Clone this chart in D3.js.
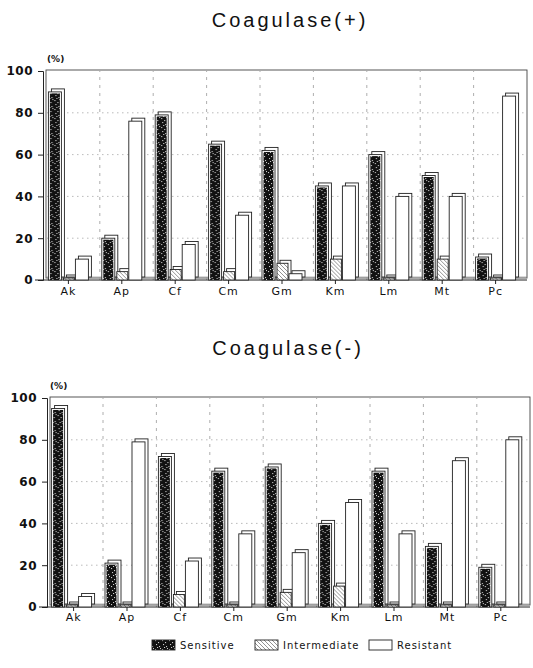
<!DOCTYPE html>
<html><head><meta charset="utf-8">
<script src="https://cdn.jsdelivr.net/npm/d3@7/dist/d3.min.js"></script>
<style>
body{margin:0;background:#fff;}
svg{display:block;}
text{font-family:"DejaVu Sans","Liberation Sans",sans-serif;fill:#111;}
</style></head>
<body>
<script>
// ---- data ----
const categories = ["Ak","Ap","Cf","Cm","Gm","Km","Lm","Mt","Pc"];
const seriesNames = ["Sensitive","Intermediate","Resistant"];
const posSensitive    = [90,20,79,65,62,45,60,50,11];
const posIntermediate = [0,4,5,4,8,10,0,10,0];
const posResistant    = [10,76,17,31,3,45,40,40,88];
const negSensitive    = [95,21,72,65,67,40,65,29,19];
const negIntermediate = [0,0,6,0,7,10,0,0,0];
const negResistant    = [5,79,22,35,26,50,35,70,80];
const yTicks = [0,20,40,60,80,100];
const titles = ["Coagulase(+)","Coagulase(-)"];

const W=533,H=668;
const svg=d3.select("body").append("svg").attr("width",W).attr("height",H);
const defs=svg.append("defs");

// speckle pattern
const sp=defs.append("pattern").attr("id","speck").attr("patternUnits","userSpaceOnUse")
  .attr("width",7).attr("height",9);
sp.append("rect").attr("width",7).attr("height",9).attr("fill","#111");
[[1,1],[4,3],[2,5],[5,7],[6,0],[3,8]].forEach(p=>
  sp.append("rect").attr("x",p[0]).attr("y",p[1]).attr("width",1.1).attr("height",1.1).attr("fill","#ccc"));
// hatch
const hp=defs.append("pattern").attr("id","hatch").attr("patternUnits","userSpaceOnUse")
  .attr("width",4).attr("height",4);
hp.append("rect").attr("width",4).attr("height",4).attr("fill","#fff");
hp.append("path").attr("d","M-1,-1L5,5M-1,3L1,5M3,-1L5,1").attr("stroke","#777").attr("stroke-width",0.8);

const fills=["url(#speck)","url(#hatch)","#fff"];

function drawChart(cfg){
  const g=svg.append("g");
  const y=d3.scaleLinear().domain([0,100]).range([cfg.y0,cfg.y100]);
  const x0=d3.scaleBand().domain(categories).range([cfg.bandStart,cfg.bandStart+cfg.step*categories.length]).padding(0);
  const x1=d3.scaleOrdinal().domain(seriesNames).range([2,17,29]);
  const wid=d3.scaleOrdinal().domain(seriesNames).range([13,11,13]);

  // title
  g.append("text").attr("x",cfg.titleX).attr("y",cfg.titleY).attr("text-anchor","middle")
    .style("font-family","'Liberation Sans',Arial,sans-serif").style("font-size","20px")
    .style("letter-spacing","3px").attr("fill","#222").text(cfg.title);
  // (%)
  g.append("text").attr("x",cfg.pctX).attr("y",cfg.pctY).style("font-size","9px").style("font-weight","bold").text("(%)");

  // frame
  g.append("rect").attr("x",cfg.frameL).attr("y",y(100)-1).attr("width",cfg.frameR-cfg.frameL)
    .attr("height",y(0)-y(100)-1).attr("fill","none").attr("stroke","#444").attr("stroke-width",0.9);

  // grid horizontal
  g.selectAll(".hg").data(yTicks.filter(d=>d>0&&d<100)).enter().append("line")
    .attr("x1",cfg.frameL+1).attr("x2",cfg.frameR-1).attr("y1",d=>y(d)).attr("y2",d=>y(d))
    .attr("stroke","#aaa").attr("stroke-width",0.8).attr("stroke-dasharray","1.5,3.5");
  // grid vertical at group boundaries
  g.selectAll(".vg").data(categories.slice(1)).enter().append("line")
    .attr("x1",d=>x0(d)).attr("x2",d=>x0(d)).attr("y1",y(0)).attr("y2",y(100))
    .attr("stroke","#999").attr("stroke-width",0.8).attr("stroke-dasharray","3,5");

  // y axis
  const ya=g.append("g").attr("transform",`translate(${cfg.axisX},0)`)
    .call(d3.axisLeft(y).tickValues(yTicks).tickSize(5).tickPadding(cfg.tickPad));
  ya.select(".domain").attr("stroke","#222");
  ya.selectAll("line").attr("stroke","#222");
  ya.selectAll("text").style("font-size","12px").style("font-weight","bold")
    .style("font-family","'DejaVu Sans',sans-serif").style("letter-spacing","0.5px").attr("fill","#111");
  // floor lines
  g.append("line").attr("x1",cfg.axisX-8).attr("x2",cfg.frameR).attr("y1",y(0)).attr("y2",y(0))
    .attr("stroke","#222").attr("stroke-width",1);
  g.append("line").attr("x1",cfg.frameL).attr("x2",cfg.frameR).attr("y1",y(0)-3).attr("y2",y(0)-3)
    .attr("stroke","#888").attr("stroke-width",0.6);

  // bars
  categories.forEach((c,i)=>{
    const gg=g.append("g").attr("transform",`translate(${x0(c)},0)`);
    seriesNames.forEach((s,k)=>{
      const v=cfg.series[k][i];
      const top=Math.min(y(v),y(0)-2);
      const h=y(0)-top;
      const bx=x1(s), w=wid(s);
      gg.append("rect").attr("x",bx+3).attr("y",top-3).attr("width",w).attr("height",h)
        .attr("fill","#fff").attr("stroke","#222").attr("stroke-width",0.9);
      if(k===0){
        gg.append("rect").attr("x",bx).attr("y",top).attr("width",w).attr("height",h)
          .attr("fill","#fff").attr("stroke","#222").attr("stroke-width",0.9);
        gg.append("rect").attr("x",bx+1.5).attr("y",top+1.5).attr("width",w-3).attr("height",Math.max(0,h-1.5))
          .attr("fill",fills[0]);
      } else {
        gg.append("rect").attr("x",bx).attr("y",top).attr("width",w).attr("height",h)
          .attr("fill",fills[k]).attr("stroke","#222").attr("stroke-width",0.9);
      }
    });
  });

  // x ticks and labels
  g.selectAll(".xt").data(categories).enter().append("line")
    .attr("x1",d=>x0(d)+cfg.tickOff).attr("x2",d=>x0(d)+cfg.tickOff)
    .attr("y1",y(0)).attr("y2",y(0)+4).attr("stroke","#222");
  g.selectAll(".xl").data(categories).enter().append("text")
    .attr("x",d=>x0(d)+cfg.tickOff).attr("y",cfg.labelY).attr("text-anchor","middle")
    .style("font-size","11px").style("letter-spacing","1px").text(d=>d);
}

drawChart({title:titles[0],titleX:290,titleY:27,pctX:47,pctY:62,y0:280,y100:71,axisX:43,frameL:46,frameR:527,
  bandStart:46.4,step:53.4,tickOff:22,labelY:295,tickPad:5,
  series:[posSensitive,posIntermediate,posResistant]});
drawChart({title:titles[1],titleX:288,titleY:355,pctX:50,pctY:389,y0:607,y100:398,axisX:47,frameL:50,frameR:530,
  bandStart:49.6,step:53.4,tickOff:24,labelY:621,tickPad:5,
  series:[negSensitive,negIntermediate,negResistant]});

// legend
const legItems=[{x:152,tx:180},{x:255,tx:283},{x:369,tx:397}];
const lg=svg.append("g");
seriesNames.forEach((s,k)=>{
  lg.append("rect").attr("x",legItems[k].x).attr("y",640).attr("width",23).attr("height",10)
    .attr("fill",fills[k]).attr("stroke","#222").attr("stroke-width",0.9);
  lg.append("text").attr("x",legItems[k].tx).attr("y",649).style("font-size","10px")
    .style("letter-spacing","1px").text(s);
});
</script>
</body></html>
